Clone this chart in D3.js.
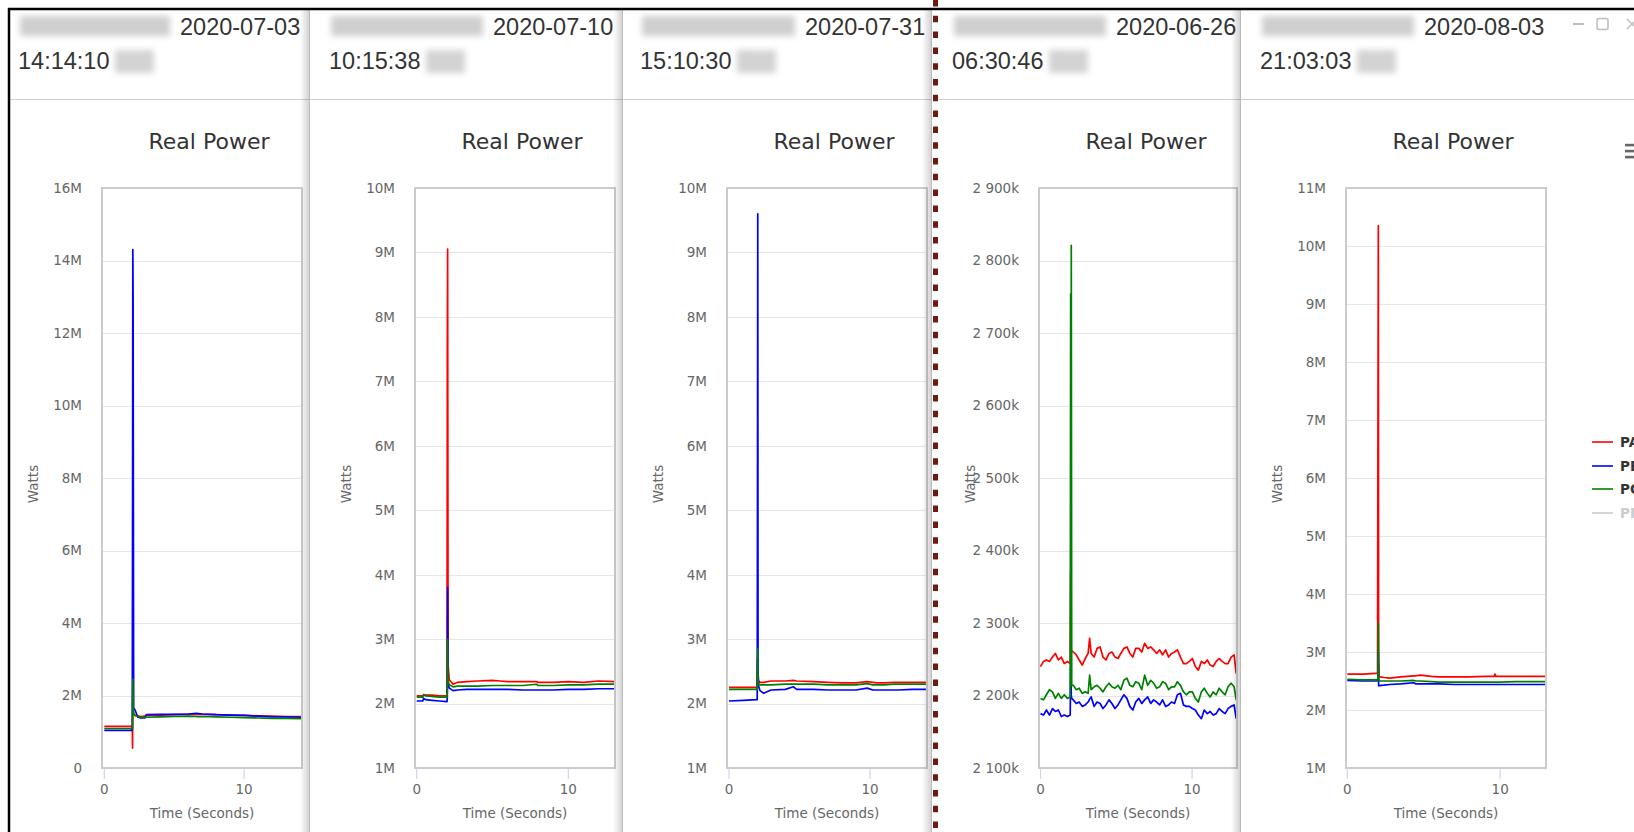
<!DOCTYPE html>
<html><head><meta charset="utf-8">
<script src="https://cdn.jsdelivr.net/npm/d3@7"></script>
<style>
html,body{margin:0;padding:0;background:#fff;overflow:hidden;}
svg{display:block;}
</style></head>
<body>
<svg id="chart" width="1634" height="832"></svg>
<script>
// ---------------- DATA ----------------
const seriesNames  = ["PA", "PB", "PC", "PN"];
const seriesColors = ["#ff0000", "#0000ff", "#008000", "#cccccc"];
const seriesVisible = [true, true, true, false];
const headerDates = ["2020-07-03", "2020-07-10", "2020-07-31", "2020-06-26", "2020-08-03"];
const headerTimes = ["14:14:10", "10:15:38", "15:10:30", "06:30:46", "21:03:03"];
const chartTitle = "Real Power";
const yAxisTitle = "Watts";
const xAxisTitle = "Time (Seconds)";
const xTicks = [0, 10];

// values in kW
const p1YTicks  = [0, 2000, 4000, 6000, 8000, 10000, 12000, 14000, 16000];
const p1YLabels = ["0", "2M", "4M", "6M", "8M", "10M", "12M", "14M", "16M"];
const p1Time = [0, 1, 1.98, 2.0, 2.02, 2.04, 2.06, 2.1, 2.2, 2.4, 2.6, 2.9, 3.0, 4, 5, 6, 6.6, 7, 8, 9, 10, 11, 12, 13, 14.1];
const p1PA = [1150, 1150, 1150, 1150, 550, 2300, 1600, 1500, 1450, 1440, 1420, 1430, 1450, 1460, 1470, 1480, 1480, 1480, 1470, 1460, 1450, 1440, 1430, 1420, 1420];
const p1PB = [1040, 1040, 1040, 1050, 6500, 14300, 13000, 1650, 1600, 1400, 1380, 1380, 1470, 1480, 1480, 1490, 1510, 1490, 1470, 1460, 1450, 1430, 1410, 1410, 1400];
const p1PC = [1090, 1090, 1090, 1090, 1100, 2450, 1700, 1500, 1450, 1420, 1400, 1400, 1400, 1410, 1420, 1430, 1420, 1420, 1410, 1400, 1390, 1380, 1370, 1370, 1360];

const p2YTicks  = [1000, 2000, 3000, 4000, 5000, 6000, 7000, 8000, 9000, 10000];
const p2YLabels = ["1M", "2M", "3M", "4M", "5M", "6M", "7M", "8M", "9M", "10M"];
const p2Time = [0, 0.4, 0.45, 0.6, 1, 1.5, 1.98, 2.0, 2.02, 2.04, 2.07, 2.15, 2.4, 2.7, 3.3, 4, 5, 5.5, 6, 7, 7.9, 8, 9, 10, 11, 12, 13.08];
const p2PA = [2120, 2120, 2140, 2130, 2130, 2120, 2120, 2120, 7500, 9050, 2600, 2370, 2300, 2330, 2340, 2350, 2360, 2350, 2340, 2340, 2340, 2330, 2330, 2340, 2330, 2350, 2340];
const p2PB = [2040, 2040, 2080, 2060, 2050, 2040, 2030, 2030, 2100, 3800, 2300, 2240, 2200, 2210, 2220, 2220, 2220, 2220, 2220, 2210, 2210, 2210, 2210, 2220, 2220, 2230, 2230];
const p2PC = [2100, 2100, 2130, 2120, 2110, 2100, 2100, 2100, 2200, 3000, 2350, 2290, 2260, 2270, 2270, 2270, 2280, 2280, 2280, 2280, 2300, 2280, 2280, 2290, 2290, 2300, 2300];

const p3YTicks  = [1000, 2000, 3000, 4000, 5000, 6000, 7000, 8000, 9000, 10000];
const p3YLabels = ["1M", "2M", "3M", "4M", "5M", "6M", "7M", "8M", "9M", "10M"];
const p3Time = [0, 1, 1.98, 2.0, 2.02, 2.04, 2.06, 2.11, 2.2, 2.46, 2.98, 4, 4.56, 4.8, 6, 7, 8, 9, 9.8, 10.2, 10.5, 11, 11.7, 12, 13, 13.96];
const p3PA = [2250, 2250, 2250, 2250, 2700, 2450, 2380, 2350, 2330, 2330, 2350, 2350, 2360, 2350, 2340, 2330, 2320, 2320, 2340, 2330, 2320, 2320, 2330, 2330, 2330, 2330];
const p3PB = [2040, 2050, 2060, 2060, 5000, 9600, 2500, 2260, 2200, 2160, 2210, 2220, 2260, 2220, 2220, 2210, 2210, 2210, 2240, 2210, 2210, 2210, 2210, 2210, 2220, 2220];
const p3PC = [2220, 2220, 2220, 2220, 2500, 2850, 2320, 2300, 2290, 2290, 2290, 2300, 2300, 2300, 2300, 2290, 2290, 2290, 2310, 2290, 2290, 2290, 2300, 2300, 2300, 2300];

const p4YTicks  = [2100, 2200, 2300, 2400, 2500, 2600, 2700, 2800, 2900];
const p4YLabels = ["2 100k", "2 200k", "2 300k", "2 400k", "2 500k", "2 600k", "2 700k", "2 800k", "2 900k"];
const p4Time = [0, 0.2, 0.39, 0.59, 0.79, 0.98, 1.18, 1.37, 1.57, 1.77, 1.96,
  1.99, 2.01, 2.03, 2.06,
  2.16, 2.36, 2.55, 2.75, 2.95, 3.14, 3.24,
  3.34, 3.54, 3.73, 3.93, 4.12, 4.32, 4.52, 4.71, 4.91, 5.11, 5.3, 5.5, 5.7, 5.89, 6.09, 6.28, 6.48, 6.68, 6.87,
  7.07, 7.27, 7.46, 7.66, 7.86, 8.05, 8.25, 8.45, 8.64, 8.84, 9.03, 9.23, 9.43, 9.62, 9.82, 10.02, 10.21, 10.41, 10.61, 10.8,
  11.0, 11.19, 11.39, 11.59, 11.78, 11.98, 12.18, 12.37, 12.57, 12.77, 12.91];
const p4PA = [2240, 2247, 2249, 2247, 2253, 2258, 2249, 2253, 2244, 2247, 2244,
  2370, 2275, 2262, 2262,
  2260, 2256, 2249, 2242, 2251, 2258, 2279,
  2258, 2253, 2265, 2267, 2253, 2249, 2258, 2260, 2253, 2251, 2258, 2265, 2267, 2258, 2253, 2265, 2265, 2260, 2272,
  2265, 2267, 2263, 2258, 2263, 2256, 2263, 2253, 2258, 2260, 2263, 2253, 2244, 2244, 2247, 2251, 2240, 2235, 2247, 2244,
  2249, 2242, 2240, 2247, 2251, 2247, 2244, 2244, 2253, 2256, 2230];
const p4PB = [2175, 2173, 2180, 2173, 2182, 2178, 2180, 2171, 2173, 2171, 2173,
  2240, 2230, 2200, 2196,
  2194, 2189, 2191, 2185, 2187, 2191, 2195,
  2198, 2185, 2191, 2189, 2182, 2187, 2194, 2189, 2182, 2187, 2194, 2201, 2196, 2185, 2180, 2191, 2196, 2189, 2194,
  2198, 2189, 2194, 2191, 2187, 2194, 2185, 2187, 2191, 2189, 2201, 2203, 2187, 2185, 2185, 2182, 2180, 2173, 2168, 2180,
  2175, 2178, 2173, 2175, 2182, 2178, 2175, 2182, 2185, 2187, 2168];
const p4PC = [2196, 2194, 2201, 2208, 2205, 2196, 2203, 2196, 2201, 2196, 2198,
  2754, 2215, 2821, 2214,
  2214, 2208, 2210, 2203, 2205, 2203, 2228,
  2208, 2212, 2214, 2210, 2205, 2212, 2217, 2212, 2210, 2214, 2208, 2221, 2224, 2214, 2212, 2219, 2217, 2208, 2228,
  2214, 2221, 2217, 2210, 2212, 2219, 2217, 2208, 2212, 2212, 2219, 2214, 2205, 2201, 2205, 2205, 2196, 2191, 2205, 2210,
  2203, 2198, 2205, 2201, 2210, 2205, 2201, 2212, 2217, 2212, 2194];

const p5YTicks  = [1000, 2000, 3000, 4000, 5000, 6000, 7000, 8000, 9000, 10000, 11000];
const p5YLabels = ["1M", "2M", "3M", "4M", "5M", "6M", "7M", "8M", "9M", "10M", "11M"];
const p5Time = [0, 1, 1.9, 1.98, 2.01, 2.03, 2.05, 2.08, 2.12, 2.4, 2.77, 3.5, 4.32, 4.5, 4.77, 5.5, 6, 7, 8, 9, 9.6, 9.66, 9.72, 10, 11, 12, 13.0];
const p5PA = [2620, 2620, 2630, 2630, 7600, 10350, 2900, 2600, 2570, 2560, 2550, 2570, 2590, 2590, 2600, 2580, 2570, 2570, 2570, 2580, 2580, 2620, 2580, 2580, 2580, 2580, 2580];
const p5PB = [2510, 2500, 2500, 2510, 2520, 3000, 2420, 2420, 2420, 2430, 2440, 2450, 2470, 2450, 2450, 2450, 2450, 2440, 2440, 2440, 2440, 2440, 2440, 2440, 2440, 2440, 2440];
const p5PC = [2530, 2520, 2520, 2520, 2600, 3500, 2550, 2510, 2500, 2500, 2500, 2500, 2510, 2500, 2500, 2490, 2480, 2480, 2480, 2480, 2480, 2480, 2480, 2480, 2490, 2490, 2490];

// ---------------- LAYOUT ----------------
const layout = [
  {left: 10,   right: 309,  plotLeft: 102,  plotRight: 302,  x0: 104.3,  xMax: 14.14, timeX: 18,   dateX: 180},
  {left: 309,  right: 622,  plotLeft: 415,  plotRight: 615,  x0: 416.7,  xMax: 13.08, timeX: 329,  dateX: 493},
  {left: 622,  right: 931,  plotLeft: 727,  plotRight: 927,  x0: 729,    xMax: 14.04, timeX: 640,  dateX: 805},
  {left: 939,  right: 1240, plotLeft: 1039, plotRight: 1237, x0: 1040.5, xMax: 12.96, timeX: 952,  dateX: 1116},
  {left: 1240, right: 1634, plotLeft: 1346, plotRight: 1546, x0: 1347.3, xMax: 13.0,  timeX: 1260, dateX: 1424}
];
const panelData = [
  {time: p1Time, series: [p1PA, p1PB, p1PC], yTicks: p1YTicks, yLabels: p1YLabels},
  {time: p2Time, series: [p2PA, p2PB, p2PC], yTicks: p2YTicks, yLabels: p2YLabels},
  {time: p3Time, series: [p3PA, p3PB, p3PC], yTicks: p3YTicks, yLabels: p3YLabels},
  {time: p4Time, series: [p4PA, p4PB, p4PC], yTicks: p4YTicks, yLabels: p4YLabels},
  {time: p5Time, series: [p5PA, p5PB, p5PC], yTicks: p5YTicks, yLabels: p5YLabels}
];
const plotTop = 188, plotBottom = 768;
const chartFont = "'DejaVu Sans', Verdana, sans-serif";
const headFont = "'Liberation Sans', Arial, sans-serif";

const svg = d3.select("#chart");
const defs = svg.append("defs");
defs.append("filter").attr("id", "blur").attr("x", "-20%").attr("y", "-40%").attr("width", "140%").attr("height", "180%")
  .append("feGaussianBlur").attr("stdDeviation", 3);
const sg = defs.append("linearGradient").attr("id", "shadow").attr("x1", "0").attr("x2", "1").attr("y1", "0").attr("y2", "0");
sg.append("stop").attr("offset", "0").attr("stop-color", "#000").attr("stop-opacity", 0);
sg.append("stop").attr("offset", "1").attr("stop-color", "#000").attr("stop-opacity", 0.17);

svg.append("rect").attr("width", 1634).attr("height", 832).attr("fill", "#fff");

layout.forEach((L, i) => {
  const D = panelData[i];
  const g = svg.append("g");
  // header
  g.append("rect").attr("x", L.timeX + 2).attr("y", 16).attr("width", L.dateX - L.timeX - 12).attr("height", 20)
    .attr("fill", "#cfcfcf").attr("filter", "url(#blur)");
  g.append("rect").attr("x", L.timeX + 97).attr("y", 50).attr("width", 39).attr("height", 23)
    .attr("fill", "#d3d3d3").attr("filter", "url(#blur)");
  g.append("text").attr("x", L.dateX).attr("y", 34.5).text(headerDates[i])
    .attr("font-family", headFont).attr("font-size", "23.5px").attr("fill", "#333");
  g.append("text").attr("x", L.timeX).attr("y", 69).text(headerTimes[i])
    .attr("font-family", headFont).attr("font-size", "23.5px").attr("fill", "#333");
  g.append("line").attr("x1", L.left).attr("x2", L.right).attr("y1", 99.5).attr("y2", 99.5)
    .attr("stroke", "#cfcfcf").attr("stroke-width", 1);

  // title
  g.append("text").attr("x", L.plotLeft + 107).attr("y", 149).attr("text-anchor", "middle")
    .text(chartTitle).attr("font-family", chartFont).attr("font-size", "22px").attr("fill", "#333");

  const x = d3.scaleLinear().domain([0, L.xMax]).range([L.x0, L.plotRight]);
  const y = d3.scaleLinear().domain([D.yTicks[0], D.yTicks[D.yTicks.length - 1]]).range([plotBottom, plotTop]);

  // grid
  g.append("g").selectAll("line").data(D.yTicks.slice(1, -1)).join("line")
    .attr("x1", L.plotLeft).attr("x2", L.plotRight)
    .attr("y1", d => Math.round(y(d)) + 0.5).attr("y2", d => Math.round(y(d)) + 0.5)
    .attr("stroke", "#e6e6e6").attr("stroke-width", 1);

  // y labels
  g.append("g").selectAll("text").data(D.yTicks).join("text")
    .attr("x", L.plotLeft - 20).attr("y", d => y(d)).attr("dy", "0.36em")
    .attr("text-anchor", "end").text((d, k) => D.yLabels[k])
    .attr("font-family", chartFont).attr("font-size", "13.5px").attr("fill", "#666");

  // x ticks
  g.append("g").selectAll("line").data(xTicks).join("line")
    .attr("x1", d => x(d)).attr("x2", d => x(d)).attr("y1", plotBottom + 1).attr("y2", plotBottom + 11)
    .attr("stroke", "#ccd6eb").attr("stroke-width", 1.2);
  g.append("g").selectAll("text").data(xTicks).join("text")
    .attr("x", d => x(d)).attr("y", 794).attr("text-anchor", "middle").text(d => d)
    .attr("font-family", chartFont).attr("font-size", "13.5px").attr("fill", "#666");

  // axis titles
  g.append("text").attr("x", (L.plotLeft + L.plotRight) / 2).attr("y", 818).attr("text-anchor", "middle")
    .text(xAxisTitle).attr("font-family", chartFont).attr("font-size", "13.5px").attr("fill", "#666");
  g.append("text").attr("transform", `translate(${L.plotLeft - 69},484) rotate(-90)`).attr("text-anchor", "middle")
    .attr("dy", "0.35em").text(yAxisTitle).attr("font-family", chartFont).attr("font-size", "13.5px").attr("fill", "#666");

  // series
  const clipId = "clip" + i;
  defs.append("clipPath").attr("id", clipId).append("rect")
    .attr("x", L.plotLeft).attr("y", plotTop).attr("width", L.plotRight - L.plotLeft).attr("height", plotBottom - plotTop);
  const line = d3.line().x(d => x(d[0])).y(d => y(d[1]));
  const lg = g.append("g").attr("clip-path", `url(#${clipId})`);
  D.series.forEach((vals, s) => {
    const pts = D.time.map((t, k) => [t, vals[k]]);
    lg.append("path").attr("d", line(pts)).attr("fill", "none")
      .attr("stroke", seriesColors[s]).attr("stroke-width", 1.7).attr("stroke-linejoin", "round");
  });

  // plot border
  g.append("rect").attr("x", L.plotLeft).attr("y", plotTop).attr("width", L.plotRight - L.plotLeft)
    .attr("height", plotBottom - plotTop).attr("fill", "none").attr("stroke", "#cccccc").attr("stroke-width", 2);
});

// legend (last panel; cut at the window edge as in the screenshot)
const legY = [442, 466, 489, 513];
const leg = svg.append("g");
seriesNames.forEach((n, s) => {
  leg.append("line").attr("x1", 1592).attr("x2", 1613).attr("y1", legY[s]).attr("y2", legY[s])
    .attr("stroke", seriesColors[s]).attr("stroke-width", 1.6);
  leg.append("text").attr("x", 1620).attr("y", legY[s]).attr("dy", "0.36em").text(n)
    .attr("font-family", chartFont).attr("font-size", "13.5px").attr("font-weight", "bold")
    .attr("fill", seriesVisible[s] ? "#333" : "#cccccc");
});
// hamburger
[145, 151, 157].forEach(yy => svg.append("rect").attr("x", 1625).attr("y", yy - 1.2).attr("width", 14).attr("height", 2.6).attr("fill", "#666"));

// window controls
svg.append("line").attr("x1", 1573).attr("x2", 1584).attr("y1", 24).attr("y2", 24).attr("stroke", "#bdbdbd").attr("stroke-width", 2);
svg.append("rect").attr("x", 1597).attr("y", 18.5).attr("width", 11).attr("height", 11).attr("rx", 2)
  .attr("fill", "none").attr("stroke", "#bdbdbd").attr("stroke-width", 1.5);
svg.append("line").attr("x1", 1627).attr("x2", 1637).attr("y1", 19).attr("y2", 29).attr("stroke", "#bdbdbd").attr("stroke-width", 1.5);
svg.append("line").attr("x1", 1637).attr("x2", 1627).attr("y1", 19).attr("y2", 29).attr("stroke", "#bdbdbd").attr("stroke-width", 1.5);

// panel separators with shadow
[309, 622, 931, 1240].forEach(sx => {
  svg.append("rect").attr("x", sx - 9).attr("y", 9).attr("width", 9).attr("height", 823).attr("fill", "url(#shadow)");
  svg.append("line").attr("x1", sx + 0.5).attr("x2", sx + 0.5).attr("y1", 9).attr("y2", 832)
    .attr("stroke", "#bbbbbb").attr("stroke-width", 1);
});

// black frame
svg.append("line").attr("x1", 8).attr("x2", 1634).attr("y1", 9).attr("y2", 9).attr("stroke", "#000").attr("stroke-width", 2.5);
svg.append("line").attr("x1", 9).attr("x2", 9).attr("y1", 8).attr("y2", 832).attr("stroke", "#000").attr("stroke-width", 2.5);

// dotted divider
svg.append("line").attr("x1", 935.5).attr("x2", 935.5).attr("y1", 0).attr("y2", 832)
  .attr("stroke", "#6b1a14").attr("stroke-width", 5).attr("stroke-dasharray", "6.5 9.3");
</script>
</body></html>
